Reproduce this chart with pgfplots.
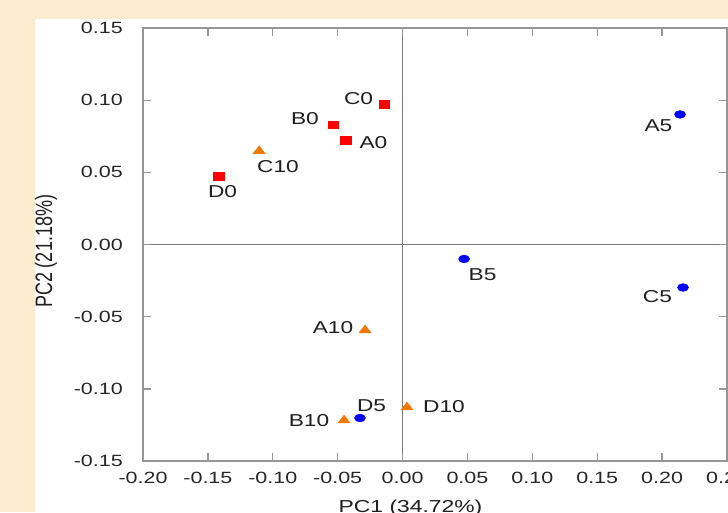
\documentclass[border=0pt]{standalone}
\usepackage{fontspec}
\usepackage{pgfplots}
\pgfplotsset{compat=1.18}
\setmainfont{Liberation Sans}
\definecolor{pagebg}{RGB}{253,235,208}
\definecolor{grpzero}{RGB}{255,0,0}
\definecolor{grpfive}{RGB}{0,0,255}
\definecolor{grpten}{RGB}{242,120,5}
\definecolor{frame}{RGB}{150,150,150}
\definecolor{zeroline}{RGB}{120,120,120}
% text in this figure is set slightly widened
\newcommand\wide[1]{\scalebox{1.32}[1]{#1}}

\begin{document}
\begin{tikzpicture}
  % canvas: 728 x 512 units of 0.75pt, origin at lower left
  \useasboundingbox (0pt,0pt) rectangle (546pt,384pt);
  \fill[pagebg] (0pt,0pt) rectangle (546pt,384pt);
  \fill[white] (26.25pt,0pt) rectangle (546pt,369.75pt);
  \begin{scope}
  \clip (0pt,0pt) rectangle (546pt,384pt);
  \begin{axis}[
    at={(107.25pt,38.25pt)}, anchor=south west,
    scale only axis, width=438pt, height=324.75pt,
    xmin=-0.2, xmax=0.25, ymin=-0.15, ymax=0.15,
    xtick={-0.2,-0.15,-0.1,-0.05,0,0.05,0.1,0.15,0.2,0.25},
    ytick={-0.15,-0.1,-0.05,0,0.05,0.1,0.15},
    tick align=inside, major tick length=6pt,
    axis line style={draw=frame, line width=1pt},
    tick style={draw=frame, line width=1pt},
    /pgf/number format/assume math mode=true,
    /pgf/number format/fixed,
    /pgf/number format/fixed zerofill,
    /pgf/number format/precision=2,
    xticklabel={\wide{\pgfmathprintnumber{\tick}}},
    yticklabel={\wide{\pgfmathprintnumber{\tick}}},
    ticklabel style={font=\fontsize{12.2}{14}\selectfont, text=black!85},
    xticklabel style={anchor=north, inner sep=0pt, yshift=-8.25pt},
    yticklabel style={anchor=east, inner sep=0pt, xshift=-15pt},
    extra x ticks={0}, extra y ticks={0},
    extra x tick labels={}, extra y tick labels={},
    extra x tick style={xticklabel={}},
    extra y tick style={yticklabel={}},
    extra tick style={grid=major, major grid style={draw=zeroline, line width=0.75pt}},
    clip=false,
  ]
    % control samples (day 0)
    \addplot[only marks, mark=square*, color=grpzero, mark size=2.8pt,
      mark options={xscale=1.375}] coordinates {
      (-0.0437, 0.0723) (-0.0534, 0.0829) (-0.0139, 0.0973) (-0.1416, 0.0473)};
    % day 5
    \addplot[only marks, mark=*, color=grpfive, mark size=2.9pt,
      mark options={xscale=1.42}] coordinates {
      (0.2138, 0.0901) (0.0474, -0.0100) (0.2161, -0.0298) (-0.0328, -0.1202)};
    % day 10
    \addplot[only marks, mark=triangle*, color=grpten, mark size=3.8pt,
      mark options={xscale=1.36}] coordinates {
      (-0.0289, -0.0594) (-0.0451, -0.1218) (-0.1105, 0.0648) (0.0034, -0.1128)};

    \begin{scope}[every node/.style={font=\fontsize{12.9}{15}\selectfont, text=black!88, inner sep=0pt}]
      \node at (axis cs:-0.0339, 0.1008) {\wide{C0}};
      \node at (axis cs:-0.0752, 0.0873) {\wide{B0}};
      \node at (axis cs:-0.0224, 0.0703) {\wide{A0}};
      \node at (axis cs:-0.0960, 0.0537) {\wide{C10}};
      \node at (axis cs:-0.1387, 0.0364) {\wide{D0}};
      \node at (axis cs:0.1972, 0.0821) {\wide{A5}};
      \node at (axis cs:0.0616, -0.0211) {\wide{B5}};
      \node at (axis cs:0.1964, -0.0360) {\wide{C5}};
      \node at (axis cs:-0.0536, -0.0579) {\wide{A10}};
      \node at (axis cs:-0.0239, -0.1119) {\wide{D5}};
      \node at (axis cs:-0.0721, -0.1219) {\wide{B10}};
      \node at (axis cs:0.0319, -0.1126) {\wide{D10}};
    \end{scope}
  \end{axis}
  \node[font=\fontsize{13}{15}\selectfont, text=black!88, inner sep=0pt] at (307.9pt,3pt) {\wide{PC1 (34.72\%)}};
  \node[text=black!88, inner sep=0pt] at (34.5pt,195.4pt)
    {\wide{\rotatebox{90}{\fontsize{13.5}{15}\selectfont PC2 (21.18\%)}}};
  \end{scope}
\end{tikzpicture}
\end{document}
